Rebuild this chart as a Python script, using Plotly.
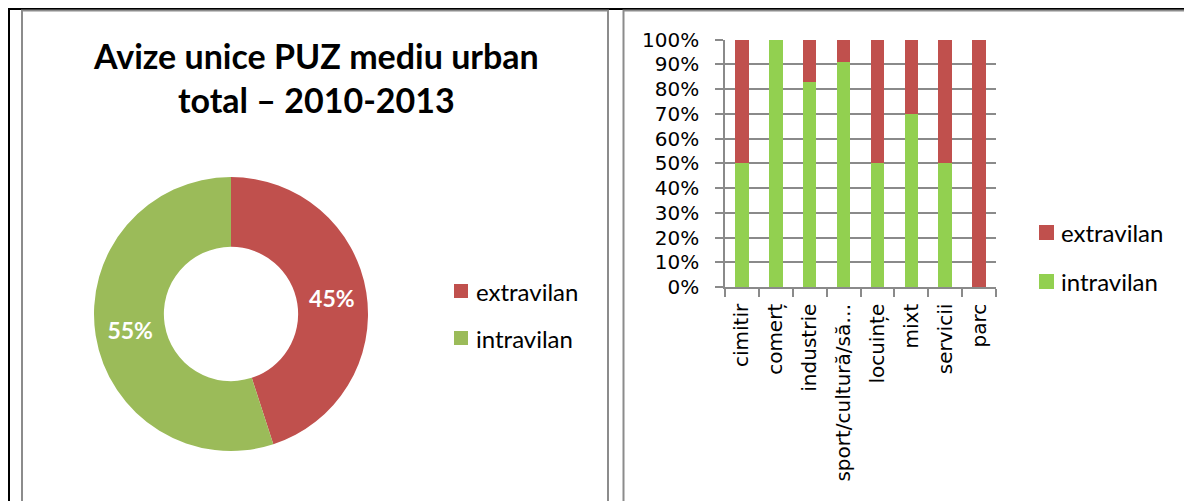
import plotly.graph_objects as go

W, H = 1184, 501

# ---- data ----
pie_labels = ["extravilan", "intravilan"]
pie_values = [45, 55]
pie_colors = ["#C0504D", "#9BBB59"]

categories = ["cimitir", "comerț", "industrie", "sport/cultură/să…",
              "locuințe", "mixt", "servicii", "parc"]
intravilan = [0.50, 1.00, 0.83, 0.91, 0.50, 0.70, 0.50, 0.00]
extravilan = [0.50, 0.00, 0.17, 0.09, 0.50, 0.30, 0.50, 1.00]
bar_names = ["intravilan", "extravilan"]
bar_colors = ["#92D050", "#C0504D"]
y_ticks = [i / 10 for i in range(11)]

title_lines = ["Avize unice PUZ mediu urban", "total – 2010-2013"]

FONT = "Lato"
AXIS_FONT = "DejaVu Sans"


def px(x):
    return x / W


def py(y):
    return 1 - y / H


fig = go.Figure()

fig.add_trace(go.Pie(
    labels=pie_labels, values=pie_values, hole=0.49, sort=False,
    direction="clockwise", rotation=0,
    marker=dict(colors=pie_colors, line=dict(width=0)),
    texttemplate="%{percent:.0%}", textposition="inside",
    insidetextorientation="horizontal",
    textfont=dict(family=FONT, size=23, color="white", weight="bold"),
    domain=dict(x=[px(94), px(368)], y=[py(451), py(177)]),
    showlegend=False, hoverinfo="label+percent",
))

fig.add_trace(go.Bar(x=categories, y=intravilan, name=bar_names[0],
                     marker=dict(color=bar_colors[0], line=dict(width=0)),
                     showlegend=False))
fig.add_trace(go.Bar(x=categories, y=extravilan, name=bar_names[1],
                     marker=dict(color=bar_colors[1], line=dict(width=0)),
                     showlegend=False))

grid = "#8a8a8a"
fig.update_layout(
    width=W, height=H,
    margin=dict(l=0, r=0, t=0, b=0, pad=0, autoexpand=False),
    paper_bgcolor="white", plot_bgcolor="white",
    barmode="stack", bargap=0.6, showlegend=False,
    font=dict(family=FONT, color="black"),
    xaxis=dict(domain=[px(725), px(996)], anchor="y", automargin=False,
               tickangle=-90,
               tickfont=dict(family=AXIS_FONT, size=20, color="black"),
               ticks="outside", ticklen=8, tickwidth=1.5, tickcolor=grid,
               tickson="boundaries", showgrid=False, ticklabelstandoff=7,
               showline=True, linecolor=grid, linewidth=1.5,
               fixedrange=True),
    yaxis=dict(domain=[py(287), py(39.5)], anchor="x", range=[0, 1],
               automargin=False,
               tickvals=y_ticks, tickformat=".0%",
               tickfont=dict(family=AXIS_FONT, size=20, color="black"),
               ticks="outside", ticklen=8, tickwidth=1.5, tickcolor=grid,
               ticklabelstandoff=12,
               showgrid=True, gridcolor=grid, gridwidth=1.5,
               showline=True, linecolor=grid, linewidth=1.5,
               zeroline=False, fixedrange=True),
)

shapes = []
# table borders (black)
shapes.append(dict(type="line", xref="paper", yref="paper",
                   x0=px(8), x1=px(1190), y0=py(9), y1=py(9),
                   line=dict(color="black", width=2)))
shapes.append(dict(type="line", xref="paper", yref="paper",
                   x0=px(9), x1=px(9), y0=py(8), y1=py(520),
                   line=dict(color="black", width=2)))
# chart frames (gray)
shapes.append(dict(type="rect", xref="paper", yref="paper",
                   x0=px(22), x1=px(608), y0=py(10.5), y1=py(530),
                   line=dict(color="#8c8c8c", width=2)))
shapes.append(dict(type="rect", xref="paper", yref="paper",
                   x0=px(623.5), x1=px(1200), y0=py(10.5), y1=py(530),
                   line=dict(color="#8c8c8c", width=2)))

annotations = []
# title
for i, line in enumerate(title_lines):
    annotations.append(dict(text=f"<b>{line}</b>", xref="paper", yref="paper",
                            x=px(316), y=py(56 + 44 * i), xanchor="center",
                            yanchor="middle", showarrow=False,
                            font=dict(family=FONT, size=34, color="black")))


# legends (manual)
def legend(items, colors, x_sq, y_tops, size, text_x):
    for name, col, yt in zip(items, colors, y_tops):
        shapes.append(dict(type="rect", xref="paper", yref="paper",
                           x0=px(x_sq), x1=px(x_sq + size),
                           y0=py(yt + size), y1=py(yt),
                           fillcolor=col, line=dict(width=0)))
        annotations.append(dict(text=name, xref="paper", yref="paper",
                                x=px(text_x), y=py(yt + size / 2),
                                xanchor="left", yanchor="middle",
                                showarrow=False,
                                font=dict(family=FONT, size=24, color="black")))


legend(pie_labels, pie_colors, 454, [284, 331], 14, 474)
legend(bar_names[::-1], bar_colors[::-1], 1039, [225, 274], 15, 1059)

fig.update_layout(shapes=shapes, annotations=annotations)
fig.write_html(
    "out.html",
    config={"displayModeBar": False},
    post_script="document.body.style.margin='0';"
                "document.body.style.overflow='hidden';",
)
